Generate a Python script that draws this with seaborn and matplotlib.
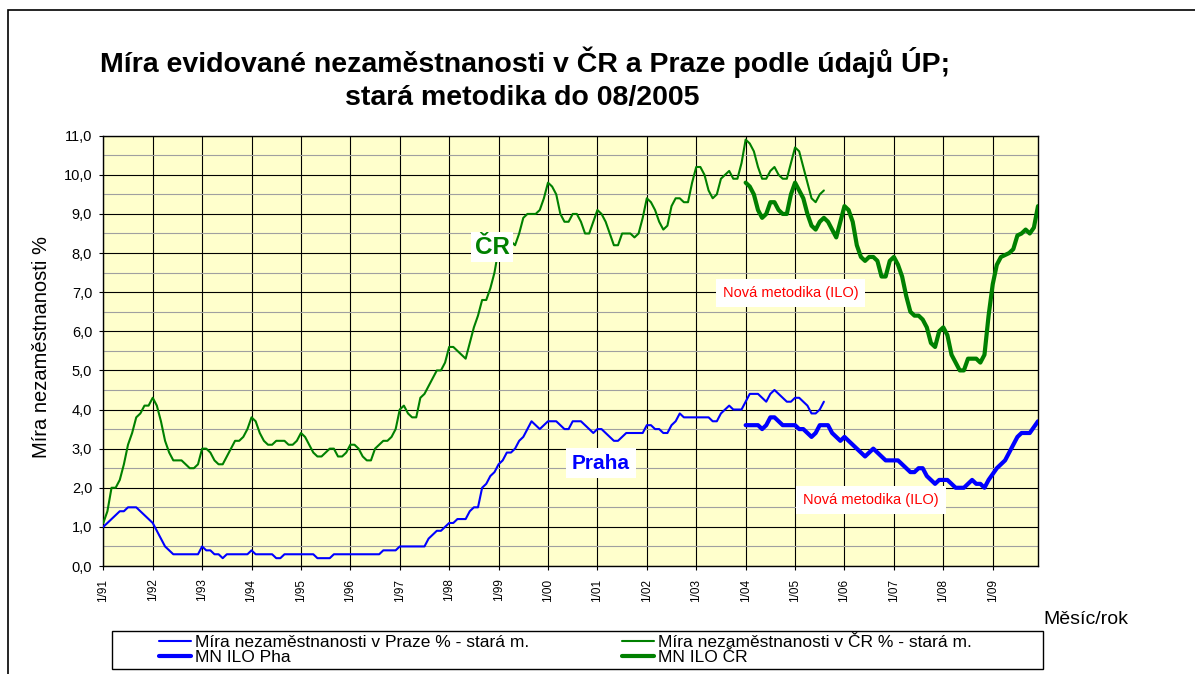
import numpy as np
import pandas as pd
import matplotlib
matplotlib.use("Agg")
import matplotlib.pyplot as plt
import seaborn as sns
from matplotlib.patches import Rectangle
from matplotlib.lines import Line2D
from matplotlib.ticker import MultipleLocator, FixedLocator, FuncFormatter

# ---------------- data (monthly, %) ----------------
# old methodology, Jan 1991 - Aug 2005
cr_old = [
    1.1, 1.4, 2.0, 2.0, 2.2, 2.6, 3.1, 3.4, 3.8, 3.9, 4.1, 4.1,   # 1991
    4.3, 4.1, 3.7, 3.2, 2.9, 2.7, 2.7, 2.7, 2.6, 2.5, 2.5, 2.6,   # 1992
    3.0, 3.0, 2.9, 2.7, 2.6, 2.6, 2.8, 3.0, 3.2, 3.2, 3.3, 3.5,   # 1993
    3.8, 3.7, 3.4, 3.2, 3.1, 3.1, 3.2, 3.2, 3.2, 3.1, 3.1, 3.2,   # 1994
    3.4, 3.3, 3.1, 2.9, 2.8, 2.8, 2.9, 3.0, 3.0, 2.8, 2.8, 2.9,   # 1995
    3.1, 3.1, 3.0, 2.8, 2.7, 2.7, 3.0, 3.1, 3.2, 3.2, 3.3, 3.5,   # 1996
    4.0, 4.1, 3.9, 3.8, 3.8, 4.3, 4.4, 4.6, 4.8, 5.0, 5.0, 5.2,   # 1997
    5.6, 5.6, 5.5, 5.4, 5.3, 5.7, 6.1, 6.4, 6.8, 6.8, 7.1, 7.5,   # 1998
    8.1, 8.3, 8.4, 8.3, 8.2, 8.5, 8.9, 9.0, 9.0, 9.0, 9.1, 9.4,   # 1999
    9.8, 9.7, 9.5, 9.0, 8.8, 8.8, 9.0, 9.0, 8.8, 8.5, 8.5, 8.8,   # 2000
    9.1, 9.0, 8.8, 8.5, 8.2, 8.2, 8.5, 8.5, 8.5, 8.4, 8.5, 8.9,   # 2001
    9.4, 9.3, 9.1, 8.8, 8.6, 8.7, 9.2, 9.4, 9.4, 9.3, 9.3, 9.8,   # 2002
    10.2, 10.2, 10.0, 9.6, 9.4, 9.5, 9.9, 10.0, 10.1, 9.9, 9.9, 10.3,  # 2003
    10.9, 10.8, 10.6, 10.2, 9.9, 9.9, 10.1, 10.2, 10.0, 9.9, 9.9, 10.3,  # 2004
    10.7, 10.6, 10.2, 9.8, 9.4, 9.3, 9.5, 9.6,                    # 2005 (1-8)
]
praha_old = [
    1.0, 1.1, 1.2, 1.3, 1.4, 1.4, 1.5, 1.5, 1.5, 1.4, 1.3, 1.2,   # 1991
    1.1, 0.9, 0.7, 0.5, 0.4, 0.3, 0.3, 0.3, 0.3, 0.3, 0.3, 0.3,   # 1992
    0.5, 0.4, 0.4, 0.3, 0.3, 0.2, 0.3, 0.3, 0.3, 0.3, 0.3, 0.3,   # 1993
    0.4, 0.3, 0.3, 0.3, 0.3, 0.3, 0.2, 0.2, 0.3, 0.3, 0.3, 0.3,   # 1994
    0.3, 0.3, 0.3, 0.3, 0.2, 0.2, 0.2, 0.2, 0.3, 0.3, 0.3, 0.3,   # 1995
    0.3, 0.3, 0.3, 0.3, 0.3, 0.3, 0.3, 0.3, 0.4, 0.4, 0.4, 0.4,   # 1996
    0.5, 0.5, 0.5, 0.5, 0.5, 0.5, 0.5, 0.7, 0.8, 0.9, 0.9, 1.0,   # 1997
    1.1, 1.1, 1.2, 1.2, 1.2, 1.4, 1.5, 1.5, 2.0, 2.1, 2.3, 2.4,   # 1998
    2.6, 2.7, 2.9, 2.9, 3.0, 3.2, 3.3, 3.5, 3.7, 3.6, 3.5, 3.6,   # 1999
    3.7, 3.7, 3.7, 3.6, 3.5, 3.5, 3.7, 3.7, 3.7, 3.6, 3.5, 3.4,   # 2000
    3.5, 3.5, 3.4, 3.3, 3.2, 3.2, 3.3, 3.4, 3.4, 3.4, 3.4, 3.4,   # 2001
    3.6, 3.6, 3.5, 3.5, 3.4, 3.4, 3.6, 3.7, 3.9, 3.8, 3.8, 3.8,   # 2002
    3.8, 3.8, 3.8, 3.8, 3.7, 3.7, 3.9, 4.0, 4.1, 4.0, 4.0, 4.0,   # 2003
    4.2, 4.4, 4.4, 4.4, 4.3, 4.2, 4.4, 4.5, 4.4, 4.3, 4.2, 4.2,   # 2004
    4.3, 4.3, 4.2, 4.1, 3.9, 3.9, 4.0, 4.2,                       # 2005 (1-8)
]
# new methodology (ILO), Jan 2004 - Dec 2009
cr_ilo = [
    9.8, 9.7, 9.5, 9.1, 8.9, 9.0, 9.3, 9.3, 9.1, 9.0, 9.0, 9.5,   # 2004
    9.8, 9.6, 9.4, 9.0, 8.7, 8.6, 8.8, 8.9, 8.8, 8.6, 8.4, 8.8,   # 2005
    9.2, 9.1, 8.8, 8.2, 7.9, 7.8, 7.9, 7.9, 7.8, 7.4, 7.4, 7.8,   # 2006
    7.9, 7.7, 7.4, 6.9, 6.5, 6.4, 6.4, 6.3, 6.1, 5.7, 5.6, 6.0,   # 2007
    6.1, 5.9, 5.4, 5.2, 5.0, 5.0, 5.3, 5.3, 5.3, 5.2, 5.4, 6.4,   # 2008
    7.2, 7.7, 7.9, 7.95, 8.0, 8.1, 8.45, 8.5, 8.6, 8.5, 8.65, 9.2,  # 2009
]
praha_ilo = [
    3.6, 3.6, 3.6, 3.6, 3.5, 3.6, 3.8, 3.8, 3.7, 3.6, 3.6, 3.6,   # 2004
    3.6, 3.5, 3.5, 3.4, 3.3, 3.4, 3.6, 3.6, 3.6, 3.4, 3.3, 3.2,   # 2005
    3.3, 3.2, 3.1, 3.0, 2.9, 2.8, 2.9, 3.0, 2.9, 2.8, 2.7, 2.7,   # 2006
    2.7, 2.7, 2.6, 2.5, 2.4, 2.4, 2.5, 2.5, 2.3, 2.2, 2.1, 2.2,   # 2007
    2.2, 2.2, 2.1, 2.0, 2.0, 2.0, 2.1, 2.2, 2.1, 2.1, 2.0, 2.2,   # 2008
    2.35, 2.5, 2.6, 2.7, 2.9, 3.1, 3.3, 3.4, 3.4, 3.4, 3.55, 3.7,  # 2009
]
year_labels = ["1/91", "1/92", "1/93", "1/94", "1/95", "1/96", "1/97", "1/98", "1/99",
               "1/00", "1/01", "1/02", "1/03", "1/04", "1/05", "1/06", "1/07", "1/08", "1/09"]
n_months = 228          # Jan 1991 .. Dec 2009
ilo_start = 156         # Jan 2004

legend_labels = ["Míra nezaměstnanosti v Praze % - stará m.", "MN ILO Pha",
                 "Míra nezaměstnanosti v ČR % - stará m.", "MN ILO ČR"]

df_old = pd.DataFrame({"m": np.arange(len(cr_old)), "cr": cr_old, "praha": praha_old})
df_ilo = pd.DataFrame({"m": np.arange(ilo_start, ilo_start + len(cr_ilo)),
                       "cr": cr_ilo, "praha": praha_ilo})

# ---------------- figure ----------------
W, H = 1195, 674
sns.set_style("white")
plt.rcParams["font.family"] = ["Liberation Sans", "DejaVu Sans"]
plt.rcParams.update({"text.color": "black", "axes.labelcolor": "black",
                     "xtick.color": "black", "ytick.color": "black"})

fig = plt.figure(figsize=(W / 100, H / 100), dpi=100)
fig.patch.set_facecolor("white")
L, R, T, B = 103.3, 1038.0, 135.7, 566.0
ax = fig.add_axes([L / W, 1 - B / H, (R - L) / W, (B - T) / H])
ax.set_facecolor("#FFFFCC")

BLUE, GREEN = "#0000FF", "#008000"
thin, thick = 1.5, 3.0
sns.lineplot(data=df_old, x="m", y="praha", ax=ax, color=BLUE, linewidth=thin,
             solid_joinstyle="round", solid_capstyle="round", legend=False, zorder=5)
sns.lineplot(data=df_old, x="m", y="cr", ax=ax, color=GREEN, linewidth=thin,
             solid_joinstyle="round", solid_capstyle="round", legend=False, zorder=5)
sns.lineplot(data=df_ilo, x="m", y="praha", ax=ax, color=BLUE, linewidth=thick,
             solid_joinstyle="round", solid_capstyle="round", legend=False, zorder=5)
sns.lineplot(data=df_ilo, x="m", y="cr", ax=ax, color=GREEN, linewidth=thick,
             solid_joinstyle="round", solid_capstyle="round", legend=False, zorder=5)

ax.set_xlim(0, n_months - 1)
ax.set_ylim(0, 11)
ax.set_xlabel("")
ax.set_ylabel("")

# grid
ax.yaxis.set_major_locator(MultipleLocator(1))
ax.yaxis.set_minor_locator(MultipleLocator(0.5))
ax.xaxis.set_major_locator(FixedLocator(np.arange(0, n_months, 12)))
ax.set_xticklabels(year_labels, rotation=90, fontsize=8.5)
ax.yaxis.set_major_formatter(FuncFormatter(lambda v, p: f"{v:.1f}".replace(".", ",")))
ax.grid(which="major", axis="both", color="black", linewidth=0.8, zorder=1)
ax.grid(which="minor", axis="y", color="#a0a0a0", linewidth=0.8, zorder=1)
ax.set_axisbelow(True)
ax.tick_params(axis="y", which="major", direction="out", length=3, width=0.8,
               pad=5, labelsize=10.5, left=True, colors="black")
ax.tick_params(axis="y", which="minor", length=0, left=False)
ax.tick_params(axis="x", which="major", direction="out", length=3, width=0.8,
               pad=6, bottom=True, colors="black")
for s in ax.spines.values():
    s.set_color("black")
    s.set_linewidth(1.0)
    s.set_visible(True)

# annotations
ax.text(94.4, 8.15, "ČR", color=GREEN, fontsize=17.5, fontweight="bold",
        ha="center", va="center", zorder=6,
        bbox=dict(facecolor="white", edgecolor="none", pad=2.5))
ax.text(120.9, 2.63, "Praha", color=BLUE, fontsize=15, fontweight="bold",
        ha="center", va="center", zorder=6,
        bbox=dict(facecolor="white", edgecolor="none", pad=4))
ax.text(166.9, 6.99, "Nová metodika (ILO)", color="#FF0000", fontsize=10.5,
        ha="center", va="center", zorder=6,
        bbox=dict(facecolor="white", edgecolor="none", pad=5))
ax.text(186.5, 1.69, "Nová metodika (ILO)", color="#FF0000", fontsize=10.5,
        ha="center", va="center", zorder=6,
        bbox=dict(facecolor="white", edgecolor="none", pad=5))

# title & axis labels
fig.text(525 / W, 1 - 62 / H, "Míra evidované nezaměstnanosti v ČR a Praze podle údajů ÚP;",
         fontsize=20.5, fontweight="bold", ha="center", va="center", color="black")
fig.text(522 / W, 1 - 98 / H, "stará metodika do 08/2005",
         fontsize=20.5, fontweight="bold", ha="center", va="center", color="black")
fig.text(42 / W, 1 - 347 / H, "Míra nezaměstnanosti %", rotation=90,
         fontsize=14.5, ha="center", va="center", color="black")
fig.text(1128 / W, 1 - 620 / H, "Měsíc/rok", fontsize=14, ha="right", va="center",
         color="black")

# outer chart frame
fig.patches.append(Rectangle((8 / W, -0.2), 1.5, 1.2 - 10 / H, transform=fig.transFigure,
                             fill=False, edgecolor="black", linewidth=1.2, zorder=0))

# legend (two columns, framed box)
fig.patches.append(Rectangle((112 / W, 1 - 669 / H), (1043 - 112) / W, 38 / H,
                             transform=fig.transFigure, fill=False,
                             edgecolor="black", linewidth=1.0))
h_pha = [Line2D([], [], color=BLUE, linewidth=thin), Line2D([], [], color=BLUE, linewidth=thick)]
h_cr = [Line2D([], [], color=GREEN, linewidth=thin), Line2D([], [], color=GREEN, linewidth=thick)]
common = dict(loc="upper left", frameon=False, fontsize=12.5, handlelength=1.85,
              handletextpad=0.25, labelspacing=-0.02, borderpad=0.0, borderaxespad=0.0)
for lg_handles, lg_labels, x0 in ((h_pha, legend_labels[:2], 159),
                                  (h_cr, legend_labels[2:], 622)):
    lg = fig.legend(lg_handles, lg_labels, bbox_to_anchor=(x0 / W, 1 - 635 / H), **common)
    for t in lg.get_texts():
        t.set_color("black")

fig.savefig("out.png", dpi=100, facecolor="white")
